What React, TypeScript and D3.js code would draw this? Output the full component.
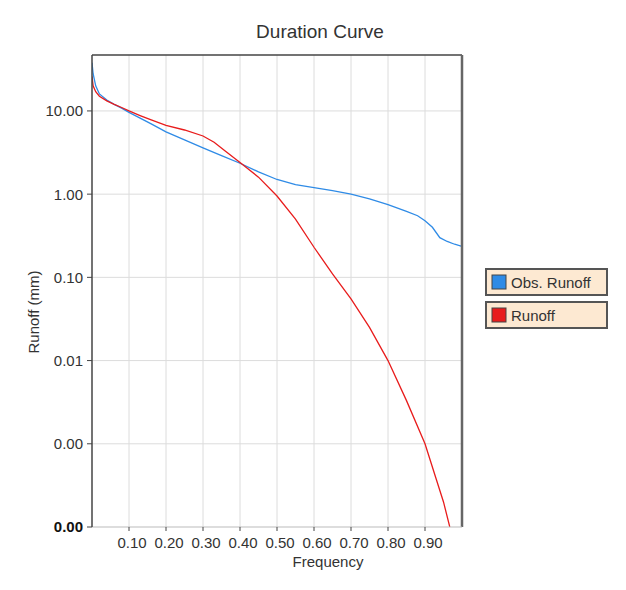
import { useMemo } from "react";
import * as d3 from "d3";

const WIDTH = 626;
const HEIGHT = 590;
const MARGIN = { top: 55, right: 164, bottom: 63, left: 92 };

// observed runoff duration curve
const obsFreq = [0, 0.003, 0.01, 0.02, 0.04, 0.06, 0.08, 0.1, 0.13, 0.16, 0.2, 0.25, 0.3, 0.35, 0.4, 0.45, 0.5, 0.55, 0.6, 0.65, 0.7, 0.75, 0.8, 0.85, 0.88, 0.9, 0.92, 0.94, 0.96, 0.98, 1.0];
const obsVal = [38, 28, 20, 16, 13.5, 12, 10.8, 9.6, 8.2, 7.0, 5.6, 4.5, 3.6, 2.9, 2.35, 1.85, 1.5, 1.3, 1.2, 1.1, 1.0, 0.88, 0.75, 0.62, 0.55, 0.48, 0.4, 0.3, 0.27, 0.25, 0.235];

// simulated runoff duration curve
const runFreq = [0, 0.003, 0.01, 0.02, 0.04, 0.06, 0.08, 0.1, 0.13, 0.16, 0.2, 0.25, 0.3, 0.33, 0.36, 0.4, 0.45, 0.5, 0.55, 0.6, 0.65, 0.7, 0.75, 0.8, 0.85, 0.9, 0.93, 0.95, 0.967];
const runVal = [26, 20, 17, 15, 13.2, 12, 11, 10, 8.8, 7.8, 6.7, 5.9, 5.0, 4.2, 3.3, 2.4, 1.6, 0.95, 0.5, 0.23, 0.11, 0.055, 0.025, 0.01, 0.0033, 0.001, 0.00038, 0.0002, 0.0001];

const xTicks = [0.1, 0.2, 0.3, 0.4, 0.5, 0.6, 0.7, 0.8, 0.9];
const yTicks = [10, 1, 0.1, 0.01, 0.001, 0.0001];

const series = [
  { name: "Obs. Runoff", color: "#2f8be6", freq: obsFreq, val: obsVal },
  { name: "Runoff", color: "#e81c1c", freq: runFreq, val: runVal },
];

const FONT = "Liberation Sans, Arial, sans-serif";

export default function App() {
  const boundsWidth = WIDTH - MARGIN.left - MARGIN.right;
  const boundsHeight = HEIGHT - MARGIN.top - MARGIN.bottom;

  const xScale = useMemo(() => d3.scaleLinear().domain([0, 1]).range([0, boundsWidth]), [boundsWidth]);
  const yScale = useMemo(
    () => d3.scaleLog().domain([0.0001, 47]).range([boundsHeight, 0]),
    [boundsHeight]
  );

  const line = d3
    .line<[number, number]>()
    .x((d) => xScale(d[0]))
    .y((d) => yScale(d[1]));

  return (
    <svg width={WIDTH} height={HEIGHT} style={{ position: "absolute", left: 0, top: 0, background: "#fff" }}>
      <text x={320} y={38} textAnchor="middle" fontFamily={FONT} fontSize={19} fill="#333">
        Duration Curve
      </text>
      <g transform={`translate(${MARGIN.left},${MARGIN.top})`}>
        <defs>
          <clipPath id="plotClip">
            <rect x={0} y={0} width={boundsWidth} height={boundsHeight} />
          </clipPath>
        </defs>
        {/* grid */}
        {xTicks.map((t) => (
          <line key={"gx" + t} x1={xScale(t)} x2={xScale(t)} y1={0} y2={boundsHeight} stroke="#dcdcdc" />
        ))}
        {yTicks.slice(0, -1).map((t) => (
          <line key={"gy" + t} x1={0} x2={boundsWidth} y1={yScale(t)} y2={yScale(t)} stroke="#dcdcdc" />
        ))}
        {/* curves */}
        <g clipPath="url(#plotClip)">
          {series.map((s) => (
            <path
              key={s.name}
              d={line(s.freq.map((f, i) => [f, s.val[i]] as [number, number])) || ""}
              fill="none"
              stroke={s.color}
              strokeWidth={1.3}
            />
          ))}
        </g>
        {/* frame */}
        <line x1={0} x2={boundsWidth} y1={0} y2={0} stroke="#444" strokeWidth={1.5} />
        <line x1={boundsWidth} x2={boundsWidth} y1={0} y2={boundsHeight} stroke="#666" strokeWidth={2.5} />
        <line x1={0} x2={boundsWidth} y1={boundsHeight} y2={boundsHeight} stroke="#bbb" strokeWidth={1} />
        <line x1={0} x2={0} y1={0} y2={boundsHeight} stroke="#444" strokeWidth={1.5} />
        {/* y axis */}
        {yTicks.map((t, i) => (
          <g key={"yt" + t} transform={`translate(0,${yScale(t)})`}>
            <line x1={-5} x2={0} stroke="#444" />
            <text
              x={-9}
              dy="0.36em"
              textAnchor="end"
              fontFamily={FONT}
              fontSize={15}
              fill={i === yTicks.length - 1 ? "#111" : "#333"}
              fontWeight={i === yTicks.length - 1 ? "bold" : "normal"}
            >
              {t.toFixed(2)}
            </text>
          </g>
        ))}
        {/* x axis */}
        {xTicks.map((t) => (
          <g key={"xt" + t} transform={`translate(${xScale(t)},${boundsHeight})`}>
            <line y1={0} y2={4} stroke="#444" />
            <text x={3} y={21} textAnchor="middle" fontFamily={FONT} fontSize={15} fill="#333">
              {t.toFixed(2)}
            </text>
          </g>
        ))}
        <text x={236} y={boundsHeight + 40} textAnchor="middle" fontFamily={FONT} fontSize={15} fill="#333">
          Frequency
        </text>
        <text
          transform={`translate(${-53},${257}) rotate(-90)`}
          textAnchor="middle"
          fontFamily={FONT}
          fontSize={15}
          fill="#333"
        >
          Runoff (mm)
        </text>
      </g>
      {/* legend */}
      {series.map((s, i) => (
        <g key={"lg" + s.name} transform={`translate(486,${269 + i * 33})`}>
          <rect x={0} y={0} width={121} height={26} fill="#fde9d2" stroke="#555" strokeWidth={2} />
          <rect x={6} y={6} width={14} height={14} fill={s.color} stroke="#444" strokeWidth={1} />
          <text x={25} y={18.5} fontFamily={FONT} fontSize={15} fill="#333">
            {s.name}
          </text>
        </g>
      ))}
    </svg>
  );
}
